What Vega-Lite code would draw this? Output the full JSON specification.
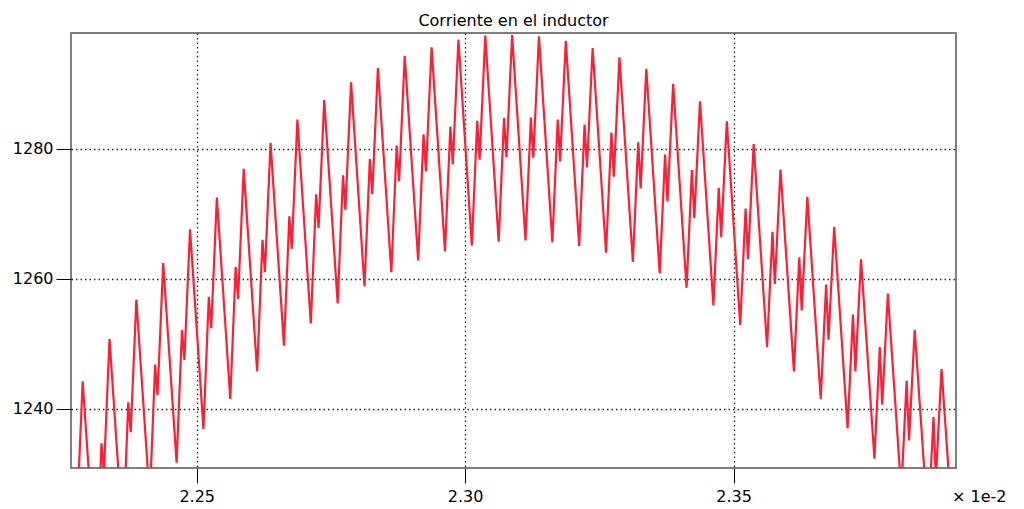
{
  "$schema": "https://vega.github.io/schema/vega-lite/v6.json",
  "width": 885,
  "height": 435,
  "autosize": {"type": "none"},
  "padding": {"left": 71, "top": 33, "right": 68, "bottom": 41},
  "background": "white",
  "config": {
    "font": "DejaVu Sans",
    "view": {"stroke": "#7f7f7f", "strokeWidth": 2},
    "axis": {
      "labelFont": "DejaVu Sans",
      "labelFontSize": 16,
      "labelColor": "black",
      "domain": false,
      "tickColor": "black",
      "tickWidth": 1,
      "tickSize": 15,
      "grid": true,
      "gridColor": "black",
      "gridOpacity": 0.85,
      "gridWidth": 1.3,
      "gridDash": [1.5, 3]
    }
  },
  "title": {
    "text": "Corriente en el inductor",
    "font": "DejaVu Sans",
    "fontSize": 16,
    "fontWeight": "normal",
    "color": "black",
    "anchor": "middle",
    "baseline": "alphabetic",
    "offset": 9,
    "dy": 18
  },
  "data": {
    "values": [
      {"t": 2.22625, "i": 1206.8}, {"t": 2.22725, "i": 1227.9}, {"t": 2.2277, "i": 1223.9}, {"t": 2.22875, "i": 1244.2},
      {"t": 2.23125, "i": 1213.8}, {"t": 2.23225, "i": 1234.7}, {"t": 2.2327, "i": 1230.0}, {"t": 2.23375, "i": 1250.7},
      {"t": 2.23625, "i": 1220.1}, {"t": 2.23725, "i": 1241.0}, {"t": 2.2377, "i": 1236.4}, {"t": 2.23875, "i": 1256.8},
      {"t": 2.24125, "i": 1226.1}, {"t": 2.24225, "i": 1246.8}, {"t": 2.2427, "i": 1242.1}, {"t": 2.24375, "i": 1262.4},
      {"t": 2.24625, "i": 1231.7}, {"t": 2.24725, "i": 1252.1}, {"t": 2.2477, "i": 1247.5}, {"t": 2.24875, "i": 1267.6},
      {"t": 2.25125, "i": 1236.9}, {"t": 2.25225, "i": 1257.2}, {"t": 2.2527, "i": 1252.4}, {"t": 2.25375, "i": 1272.5},
      {"t": 2.25625, "i": 1241.5}, {"t": 2.25725, "i": 1261.8}, {"t": 2.2577, "i": 1256.9}, {"t": 2.25875, "i": 1276.9},
      {"t": 2.26125, "i": 1245.75}, {"t": 2.26225, "i": 1266.0}, {"t": 2.2627, "i": 1261.0}, {"t": 2.26375, "i": 1280.9},
      {"t": 2.26625, "i": 1249.7}, {"t": 2.26725, "i": 1269.6}, {"t": 2.2677, "i": 1264.6}, {"t": 2.26875, "i": 1284.5},
      {"t": 2.27125, "i": 1253.1}, {"t": 2.27225, "i": 1273.0}, {"t": 2.2727, "i": 1267.8}, {"t": 2.27375, "i": 1287.5},
      {"t": 2.27625, "i": 1256.2}, {"t": 2.27725, "i": 1275.9}, {"t": 2.2777, "i": 1270.6}, {"t": 2.27875, "i": 1290.2},
      {"t": 2.28125, "i": 1258.8}, {"t": 2.28225, "i": 1278.4}, {"t": 2.2827, "i": 1273.0}, {"t": 2.28375, "i": 1292.4},
      {"t": 2.28625, "i": 1261.0}, {"t": 2.28725, "i": 1280.5}, {"t": 2.2877, "i": 1275.0}, {"t": 2.28875, "i": 1294.3},
      {"t": 2.29125, "i": 1262.8}, {"t": 2.29225, "i": 1282.2}, {"t": 2.2927, "i": 1276.5}, {"t": 2.29375, "i": 1295.6},
      {"t": 2.29625, "i": 1264.2}, {"t": 2.29725, "i": 1283.4}, {"t": 2.2977, "i": 1277.6}, {"t": 2.29875, "i": 1296.8},
      {"t": 2.30125, "i": 1265.1}, {"t": 2.30225, "i": 1284.3}, {"t": 2.3027, "i": 1278.3}, {"t": 2.30375, "i": 1297.4},
      {"t": 2.30625, "i": 1265.7}, {"t": 2.30725, "i": 1284.7}, {"t": 2.3077, "i": 1278.7}, {"t": 2.30875, "i": 1297.5},
      {"t": 2.31125, "i": 1265.9}, {"t": 2.31225, "i": 1284.8}, {"t": 2.3127, "i": 1278.6}, {"t": 2.31375, "i": 1297.3},
      {"t": 2.31625, "i": 1265.6}, {"t": 2.31725, "i": 1284.5}, {"t": 2.3177, "i": 1278.05}, {"t": 2.31875, "i": 1296.6},
      {"t": 2.32125, "i": 1265.0}, {"t": 2.32225, "i": 1283.7}, {"t": 2.3227, "i": 1277.1}, {"t": 2.32375, "i": 1295.5},
      {"t": 2.32625, "i": 1264.0}, {"t": 2.32725, "i": 1282.5}, {"t": 2.3277, "i": 1275.7}, {"t": 2.32875, "i": 1294.05},
      {"t": 2.33125, "i": 1262.6}, {"t": 2.33225, "i": 1281.0}, {"t": 2.3327, "i": 1273.9}, {"t": 2.33375, "i": 1292.3},
      {"t": 2.33625, "i": 1260.8}, {"t": 2.33725, "i": 1279.1}, {"t": 2.3377, "i": 1271.9}, {"t": 2.33875, "i": 1290.0},
      {"t": 2.34125, "i": 1258.6}, {"t": 2.34225, "i": 1276.7}, {"t": 2.3427, "i": 1269.3}, {"t": 2.34375, "i": 1287.3},
      {"t": 2.34625, "i": 1255.9}, {"t": 2.34725, "i": 1274.0}, {"t": 2.3477, "i": 1266.4}, {"t": 2.34875, "i": 1284.2},
      {"t": 2.35125, "i": 1252.9}, {"t": 2.35225, "i": 1270.8}, {"t": 2.3527, "i": 1263.0}, {"t": 2.35375, "i": 1280.7},
      {"t": 2.35625, "i": 1249.5}, {"t": 2.35725, "i": 1267.2}, {"t": 2.3577, "i": 1259.2}, {"t": 2.35875, "i": 1276.8},
      {"t": 2.36125, "i": 1245.75}, {"t": 2.36225, "i": 1263.3}, {"t": 2.3627, "i": 1255.1}, {"t": 2.36375, "i": 1272.6},
      {"t": 2.36625, "i": 1241.5}, {"t": 2.36725, "i": 1259.1}, {"t": 2.3677, "i": 1250.6}, {"t": 2.36875, "i": 1268.0},
      {"t": 2.37125, "i": 1237.0}, {"t": 2.37225, "i": 1254.5}, {"t": 2.3727, "i": 1245.75}, {"t": 2.37375, "i": 1263.0},
      {"t": 2.37625, "i": 1232.3}, {"t": 2.37725, "i": 1249.5}, {"t": 2.3777, "i": 1240.6}, {"t": 2.37875, "i": 1257.7},
      {"t": 2.38125, "i": 1227.3}, {"t": 2.38225, "i": 1244.3}, {"t": 2.3827, "i": 1235.1}, {"t": 2.38375, "i": 1252.15},
      {"t": 2.38625, "i": 1222.0}, {"t": 2.38725, "i": 1238.7}, {"t": 2.3877, "i": 1229.3}, {"t": 2.38875, "i": 1246.1},
      {"t": 2.39125, "i": 1216.4}
    ]
  },
  "mark": {"type": "line", "color": "#ff1f35", "strokeWidth": 2.2, "clip": true, "interpolate": "linear"},
  "encoding": {
    "x": {
      "field": "t",
      "type": "quantitative",
      "scale": {"domain": [2.226575, 2.391446], "nice": false, "zero": false},
      "axis": {
        "values": [2.25, 2.3, 2.35],
        "format": ".2f",
        "labelBaseline": "alphabetic",
        "labelPadding": 18,
        "title": "× 1e-2",
        "titleFont": "DejaVu Sans",
        "titleFontSize": 16,
        "titleFontWeight": "normal",
        "titleColor": "black",
        "titleAlign": "right",
        "titleAnchor": null,
        "titleBaseline": "alphabetic",
        "titleX": 935,
        "titleY": 33
      }
    },
    "y": {
      "field": "i",
      "type": "quantitative",
      "scale": {"domain": [1230.88, 1297.8], "nice": false, "zero": false},
      "axis": {
        "values": [1240, 1260, 1280],
        "format": "d",
        "labelPadding": 3,
        "labelBaseline": "middle",
        "title": null
      }
    }
  }
}
